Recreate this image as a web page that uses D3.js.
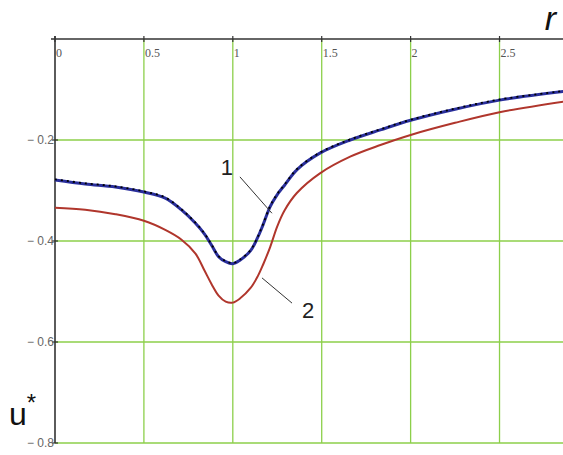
<!DOCTYPE html>
<html>
<head>
<meta charset="utf-8">
<script src="https://cdn.jsdelivr.net/npm/d3@7"></script>
<style>
  html, body { margin: 0; padding: 0; background: #fff; }
  svg { display: block; }
</style>
</head>
<body>
<div id="chart"></div>
<script>
// r values and the two curves
const rValues = [0, 0.17, 0.34, 0.5, 0.62, 0.71, 0.79, 0.84, 0.88, 0.92, 0.96, 1.0, 1.04, 1.1, 1.14, 1.17, 1.21, 1.25, 1.29, 1.36, 1.49, 1.66, 1.83, 2.0, 2.25, 2.5, 2.86];
const curve1 = [-0.279, -0.287, -0.293, -0.303, -0.315, -0.338, -0.365, -0.386, -0.408, -0.431, -0.441, -0.445, -0.438, -0.419, -0.393, -0.368, -0.332, -0.308, -0.290, -0.259, -0.226, -0.200, -0.180, -0.161, -0.139, -0.121, -0.104];
const curve2 = [-0.334, -0.338, -0.347, -0.360, -0.378, -0.397, -0.425, -0.458, -0.485, -0.508, -0.520, -0.522, -0.514, -0.493, -0.470, -0.447, -0.412, -0.371, -0.340, -0.305, -0.266, -0.233, -0.210, -0.190, -0.166, -0.145, -0.124];
const xTicks = [0, 0.5, 1, 1.5, 2, 2.5];
const xTickLabels = ['0', '0.5', '1', '1.5', '2', '2.5'];
const yTicks = [-0.2, -0.4, -0.6, -0.8];
const yTickLabels = ['\u2212 0.2', '\u2212 0.4', '\u2212 0.6', '\u2212 0.8'];

const width = 563;
const height = 455;

const svg = d3.select('#chart')
  .append('svg')
  .attr('width', width)
  .attr('height', height);

const x = d3.scaleLinear().domain([0, 2.857]).range([55, 563]);
const y = d3.scaleLinear().domain([0, -0.8]).range([39, 443]);

const green = '#8ccf4a';

// grid lines
svg.append('g')
  .selectAll('line')
  .data(xTicks.slice(1))
  .enter()
  .append('line')
  .attr('x1', d => x(d)).attr('x2', d => x(d))
  .attr('y1', y(0)).attr('y2', y(-0.8))
  .attr('stroke', green)
  .attr('stroke-width', 1.3);

svg.append('g')
  .selectAll('line')
  .data(yTicks)
  .enter()
  .append('line')
  .attr('x1', x(0)).attr('x2', width)
  .attr('y1', d => y(d)).attr('y2', d => y(d))
  .attr('stroke', green)
  .attr('stroke-width', 1.3);

// axes
svg.append('line')
  .attr('x1', x(0) - 4).attr('x2', width)
  .attr('y1', y(0)).attr('y2', y(0))
  .attr('stroke', '#333').attr('stroke-width', 1.6);

svg.append('line')
  .attr('x1', x(0)).attr('x2', x(0))
  .attr('y1', y(0) - 3).attr('y2', y(-0.8))
  .attr('stroke', '#333').attr('stroke-width', 1.6);

// tick marks
svg.append('g')
  .selectAll('line')
  .data(xTicks)
  .enter()
  .append('line')
  .attr('x1', d => x(d)).attr('x2', d => x(d))
  .attr('y1', y(0) - 3).attr('y2', y(0) + 3)
  .attr('stroke', '#333').attr('stroke-width', 1.2);

svg.append('g')
  .selectAll('line')
  .data(yTicks)
  .enter()
  .append('line')
  .attr('x1', x(0) - 3).attr('x2', x(0) + 3)
  .attr('y1', d => y(d)).attr('y2', d => y(d))
  .attr('stroke', '#333').attr('stroke-width', 1.2);

// tick labels
svg.append('g')
  .selectAll('text')
  .data(xTicks)
  .enter()
  .append('text')
  .attr('x', d => x(d) + 1)
  .attr('y', y(0) + 18)
  .attr('font-family', 'Liberation Serif, serif')
  .attr('font-size', '12px')
  .attr('fill', '#555')
  .text((d, i) => xTickLabels[i]);

svg.append('g')
  .selectAll('text')
  .data(yTicks)
  .enter()
  .append('text')
  .attr('x', x(0) - 1)
  .attr('y', d => y(d) + 4)
  .attr('text-anchor', 'end')
  .attr('font-family', 'Liberation Sans, sans-serif')
  .attr('font-size', '12px')
  .attr('fill', '#666')
  .text((d, i) => yTickLabels[i]);

// curves
const line = d3.line()
  .x(d => x(d[0]))
  .y(d => y(d[1]))
  .curve(d3.curveCatmullRom.alpha(0.5));

const pts1 = rValues.map((r, i) => [r, curve1[i]]);
const pts2 = rValues.map((r, i) => [r, curve2[i]]);

svg.append('path')
  .attr('d', line(pts2))
  .attr('fill', 'none')
  .attr('stroke', '#b0362c')
  .attr('stroke-width', 2);

svg.append('path')
  .attr('d', line(pts1))
  .attr('fill', 'none')
  .attr('stroke', '#2a2f9c')
  .attr('stroke-width', 3);

svg.append('path')
  .attr('d', line(pts1))
  .attr('fill', 'none')
  .attr('stroke', '#000')
  .attr('stroke-width', 1.8)
  .attr('stroke-dasharray', '2,4')
  .attr('transform', 'translate(0,-0.6)');

// curve annotations
const leaders = [
  { from: [1.04, -0.273], to: [1.22, -0.345] },
  { from: [1.164, -0.473], to: [1.333, -0.523] }
];
svg.append('g')
  .selectAll('line')
  .data(leaders)
  .enter()
  .append('line')
  .attr('x1', d => x(d.from[0])).attr('y1', d => y(d.from[1]))
  .attr('x2', d => x(d.to[0])).attr('y2', d => y(d.to[1]))
  .attr('stroke', '#333').attr('stroke-width', 1);

const notes = [
  { label: '1', r: 0.967, u: -0.253 },
  { label: '2', r: 1.423, u: -0.537 }
];
svg.append('g')
  .selectAll('text')
  .data(notes)
  .enter()
  .append('text')
  .attr('x', d => x(d.r))
  .attr('y', d => y(d.u) + 8)
  .attr('text-anchor', 'middle')
  .attr('font-family', 'Liberation Sans, Arial, sans-serif')
  .attr('font-size', '22px')
  .attr('fill', '#222')
  .text(d => d.label);

// axis titles
svg.append('text')
  .attr('x', 556)
  .attr('y', 30)
  .attr('text-anchor', 'end')
  .attr('font-family', 'Liberation Sans, Arial, sans-serif')
  .attr('font-style', 'italic')
  .attr('font-size', '34px')
  .attr('fill', '#111')
  .text('r');

const ut = svg.append('text')
  .attr('x', 9)
  .attr('y', 425)
  .attr('font-family', 'Liberation Sans, Arial, sans-serif')
  .attr('font-size', '32px')
  .attr('fill', '#111');
ut.append('tspan').text('u');
ut.append('tspan').attr('dy', -14).attr('font-size', '24px').text('*');
</script>
</body>
</html>
